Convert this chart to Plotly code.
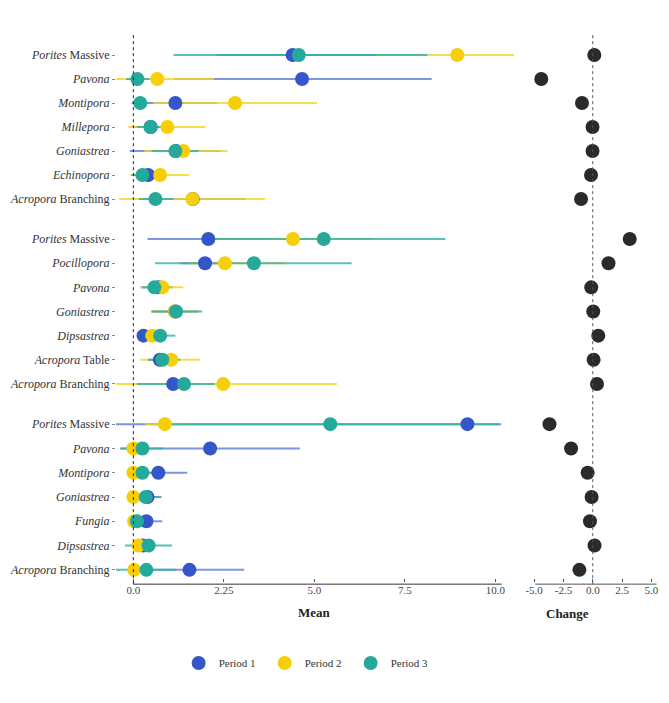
import plotly.graph_objects as go

# ---------------- data ----------------
species_g1 = ["Porites Massive", "Pavona", "Montipora", "Millepora", "Goniastrea", "Echinopora", "Acropora Branching"]
species_g2 = ["Porites Massive", "Pocillopora", "Pavona", "Goniastrea", "Dipsastrea", "Acropora Table", "Acropora Branching"]
species_g3 = ["Porites Massive", "Pavona", "Montipora", "Goniastrea", "Fungia", "Dipsastrea", "Acropora Branching"]

# Group 1
p1_mean_g1 = [4.40, 4.66, 1.16, 0.48, 1.18, 0.41, 1.64]
p1_lo_g1 = [2.30, 1.13, 0.00, 0.00, -0.10, 0.00, 0.30]
p1_hi_g1 = [6.70, 8.24, 2.31, 1.00, 2.40, 0.85, 3.10]
p2_mean_g1 = [8.95, 0.66, 2.81, 0.94, 1.38, 0.74, 1.63]
p2_lo_g1 = [6.70, -0.48, 0.55, -0.14, 0.30, -0.08, -0.39]
p2_hi_g1 = [10.55, 2.23, 5.07, 1.99, 2.60, 1.54, 3.64]
p3_mean_g1 = [4.57, 0.11, 0.19, 0.47, 1.16, 0.25, 0.61]
p3_lo_g1 = [1.11, -0.20, -0.05, 0.10, 0.50, -0.05, 0.15]
p3_hi_g1 = [8.12, 0.45, 0.45, 0.90, 1.80, 0.60, 1.10]

# Group 2
p1_mean_g2 = [2.07, 1.98, 0.70, 1.15, 0.28, 0.73, 1.10]
p1_lo_g2 = [0.39, 1.30, 0.20, 0.50, 0.15, 0.40, 0.30]
p1_hi_g2 = [3.75, 2.70, 1.10, 1.80, 0.50, 1.10, 1.90]
p2_mean_g2 = [4.41, 2.53, 0.80, 1.15, 0.52, 1.05, 2.48]
p2_lo_g2 = [2.20, 1.50, 0.20, 0.50, 0.20, 0.19, -0.48]
p2_hi_g2 = [6.64, 4.20, 1.38, 1.80, 0.90, 1.85, 5.62]
p3_mean_g2 = [5.26, 3.33, 0.58, 1.18, 0.74, 0.80, 1.40]
p3_lo_g2 = [1.90, 0.60, 0.25, 0.50, 0.30, 0.40, 0.10]
p3_hi_g2 = [8.62, 6.03, 1.00, 1.90, 1.16, 1.30, 2.25]

# Group 3
p1_mean_g3 = [9.23, 2.12, 0.69, 0.39, 0.36, 0.27, 1.55]
p1_lo_g3 = [-0.53, -0.36, 0.00, 0.00, 0.00, 0.00, 0.05]
p1_hi_g3 = [10.16, 4.60, 1.49, 0.78, 0.80, 0.60, 3.06]
p2_mean_g3 = [0.87, 0.00, 0.00, 0.00, 0.02, 0.14, 0.02]
p2_lo_g3 = [0.33, -0.10, -0.10, -0.05, -0.05, 0.00, -0.05]
p2_hi_g3 = [1.50, 0.10, 0.10, 0.05, 0.10, 0.30, 0.10]
p3_mean_g3 = [5.44, 0.25, 0.25, 0.34, 0.10, 0.42, 0.36]
p3_lo_g3 = [0.80, -0.36, -0.13, 0.00, -0.10, -0.23, -0.50]
p3_hi_g3 = [10.10, 0.82, 0.60, 0.70, 0.50, 1.07, 1.18]

# Change
change_g1 = [0.13, -4.39, -0.92, -0.02, -0.02, -0.15, -1.00]
change_g2 = [3.15, 1.34, -0.13, 0.04, 0.47, 0.07, 0.36]
change_g3 = [-3.69, -1.85, -0.44, -0.10, -0.24, 0.15, -1.14]

period_names = ["Period 1", "Period 2", "Period 3"]
mean_ticks = [0, 2.5, 5, 7.5, 10]
mean_ticktext = ["0.0", "2.25", "5.0", "7.5", "10.0"]
change_ticks = [-5, -2.5, 0, 2.5, 5]
change_ticktext = ["-5.0", "-2.5", "0.0", "2.5", "5.0"]

# ---------------- styling ----------------
marker_colors = ["#3456c9", "#f6cf08", "#24a99a"]
line_colors = ["#5b7dd8", "#f3d520", "#2fb3a4"]
FONT = "Liberation Serif"

groups = [
    (species_g1, [(p1_mean_g1, p1_lo_g1, p1_hi_g1), (p2_mean_g1, p2_lo_g1, p2_hi_g1), (p3_mean_g1, p3_lo_g1, p3_hi_g1)], change_g1),
    (species_g2, [(p1_mean_g2, p1_lo_g2, p1_hi_g2), (p2_mean_g2, p2_lo_g2, p2_hi_g2), (p3_mean_g2, p3_lo_g2, p3_hi_g2)], change_g2),
    (species_g3, [(p1_mean_g3, p1_lo_g3, p1_hi_g3), (p2_mean_g3, p2_lo_g3, p2_hi_g3), (p3_mean_g3, p3_lo_g3, p3_hi_g3)], change_g3),
]

def label_html(name):
    parts = name.split(" ", 1)
    if len(parts) == 2:
        return "<i>%s</i> %s" % (parts[0], parts[1])
    return "<i>%s</i>" % name

# page has an 8px body margin; work in screen pixels and convert
OFF = 8
W, H = 669 - 2 * OFF, 703 - 2 * OFF
PL, PR, PT, PB = 114, 659, 43, 582          # plot area in screen px
ml, mr, mt, mb = PL - OFF, (W + OFF) - PR, PT - OFF, (H + OFF) - PB
ph = PB - PT
pw = PR - PL

# group vertical extents in screen pixels (top, bottom)
group_px = [(43, 211), (227, 396), (412, 582)]
left_dom = [0, (514 - PL) / pw]
right_dom = [(525 - PL) / pw, 1.0]
left_range = [-0.48, 10.51]
right_range = [-5.8, 5.56]

fig = go.Figure()
layout = dict()

for g, (species, periods, change) in enumerate(groups):
    xl = "x%d" % (2 * g + 1) if g > 0 else "x"
    yl = "y%d" % (2 * g + 1) if g > 0 else "y"
    xr = "x%d" % (2 * g + 2)
    yr = "y%d" % (2 * g + 2)
    # CI lines first
    for p, (mean, lo, hi) in enumerate(periods):
        xs, ys = [], []
        for s, l, h in zip(species, lo, hi):
            xs += [l, h, None]
            ys += [s, s, None]
        fig.add_trace(go.Scatter(x=xs, y=ys, mode="lines", xaxis=xl, yaxis=yl,
                                 line=dict(color=line_colors[p], width=2), opacity=0.8,
                                 showlegend=False, hoverinfo="skip"))
    # points
    for p, (mean, lo, hi) in enumerate(periods):
        fig.add_trace(go.Scatter(x=mean, y=species, mode="markers", xaxis=xl, yaxis=yl,
                                 marker=dict(color=marker_colors[p], size=14),
                                 name=period_names[p], legendgroup=period_names[p],
                                 showlegend=(g == 0)))
    fig.add_trace(go.Scatter(x=change, y=species, mode="markers", xaxis=xr, yaxis=yr,
                             marker=dict(color="#2a2a2a", size=14), showlegend=False))

    top, bot = group_px[g]
    ydom = [(PB - bot) / ph, (PB - top) / ph]
    cat_arr = list(reversed(species))
    is_bottom = (g == 2)
    layout["xaxis" + ("" if g == 0 else str(2 * g + 1))] = dict(
        domain=left_dom, range=left_range, anchor=yl, showgrid=False, zeroline=False,
        showline=False, tickvals=mean_ticks, ticktext=mean_ticktext,
        showticklabels=is_bottom, ticks="inside" if is_bottom else "", ticklen=3,
        tickcolor="#555", tickfont=dict(family=FONT, size=11, color="#444"))
    layout["yaxis" + ("" if g == 0 else str(2 * g + 1))] = dict(
        domain=ydom, anchor=xl, type="category", categoryorder="array", categoryarray=cat_arr,
        range=[-0.5, 6.5], showgrid=False, zeroline=False, showline=False,
        tickvals=species, ticktext=[label_html(s) for s in species],
        ticks="outside", ticklen=3, tickcolor="#888",
        tickfont=dict(family=FONT, size=12, color="#333"))
    layout["xaxis" + str(2 * g + 2)] = dict(
        domain=right_dom, range=right_range, anchor=yr, showgrid=False, zeroline=False,
        showline=False, tickvals=change_ticks, ticktext=change_ticktext,
        showticklabels=is_bottom, ticks="inside" if is_bottom else "", ticklen=3,
        tickcolor="#555", tickfont=dict(family=FONT, size=11, color="#444"))
    layout["yaxis" + str(2 * g + 2)] = dict(
        domain=ydom, anchor=xr, type="category", categoryorder="array", categoryarray=cat_arr,
        range=[-0.5, 6.5], showgrid=False, zeroline=False, showline=False,
        showticklabels=False, ticks="")

shapes = [
    # zero reference lines
    dict(type="line", xref="x", yref="paper", x0=0, x1=0, y0=-0.004, y1=1.015,
         line=dict(color="#222", width=1, dash="3px,3px")),
    dict(type="line", xref="x2", yref="paper", x0=0, x1=0, y0=-0.004, y1=1.015,
         line=dict(color="#555", width=1, dash="3px,3px")),
    # bottom axis lines
    dict(type="line", xref="x5", yref="paper", x0=0, x1=10.18, y0=-0.004, y1=-0.004,
         line=dict(color="#333", width=1)),
    dict(type="line", xref="x6", yref="paper", x0=-4.9, x1=5.44, y0=-0.004, y1=-0.004,
         line=dict(color="#555", width=1)),
]

annotations = [
    dict(text="<b>Mean</b>", xref="paper", yref="paper", x=(left_dom[0] + left_dom[1]) / 2,
         y=(PB - 612) / ph, showarrow=False, yanchor="middle",
         font=dict(family=FONT, size=13, color="#222")),
    dict(text="<b>Change</b>", xref="paper", yref="paper", x=(right_dom[0] + right_dom[1]) / 2,
         y=(PB - 613) / ph, showarrow=False, yanchor="middle",
         font=dict(family=FONT, size=13, color="#222")),
]

fig.update_layout(
    width=W, height=H, margin=dict(l=ml, r=mr, t=mt, b=mb),
    paper_bgcolor="white", plot_bgcolor="white",
    shapes=shapes, annotations=annotations,
    legend=dict(orientation="h", x=(177 - PL) / pw, y=(PB - 663) / ph,
                xanchor="left", yanchor="middle", entrywidth=41, entrywidthmode="pixels",
                font=dict(family=FONT, size=11, color="#333")),
    **layout,
)

fig.write_html("out.html")
